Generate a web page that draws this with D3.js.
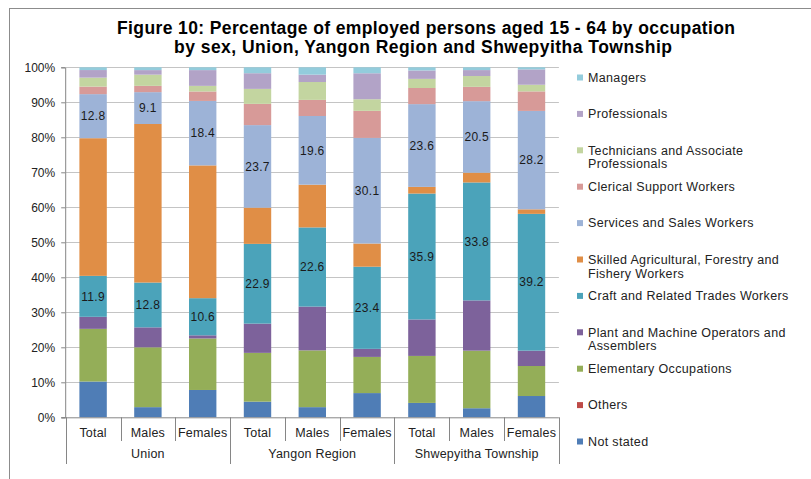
<!DOCTYPE html>
<html>
<head>
<meta charset="utf-8">
<script src="https://cdn.jsdelivr.net/npm/d3@7/dist/d3.min.js"></script>
<style>
  html, body { margin: 0; padding: 0; background: #fff; }
  svg { display: block; font-family: "Liberation Sans", Arial, sans-serif; }
</style>
</head>
<body>
<svg id="chart" width="811" height="479"></svg>
<script>
// ---- Data ----
const categories = ["Total", "Males", "Females", "Total", "Males", "Females", "Total", "Males", "Females"];
const groups = ["Union", "Yangon Region", "Shwepyitha Township"];
const seriesNames = [
  "Not stated", "Others", "Elementary Occupations", "Plant and Machine Operators and Assemblers",
  "Craft and Related Trades Workers", "Skilled Agricultural, Forestry and Fishery Workers",
  "Services and Sales Workers", "Clerical Support Workers",
  "Technicians and Associate Professionals", "Professionals", "Managers"
];
const notStated     = [10.4, 2.9, 7.8, 4.5, 2.9, 6.9, 4.1, 2.6, 6.1];
const others        = [0, 0, 0, 0, 0, 0, 0, 0, 0];
const elementary    = [15.3, 17.1, 14.7, 14.0, 16.2, 10.3, 13.4, 16.5, 8.6];
const plant         = [3.5, 5.7, 0.9, 8.4, 12.5, 2.3, 10.4, 14.4, 4.4];
const craft         = [11.9, 12.8, 10.6, 22.9, 22.6, 23.4, 35.9, 33.8, 39.2];
const skilled       = [40.0, 45.3, 37.9, 10.4, 12.2, 6.6, 1.9, 2.8, 1.3];
const services      = [12.8, 9.1, 18.4, 23.7, 19.6, 30.1, 23.6, 20.5, 28.2];
const clerical      = [2.2, 1.8, 2.7, 6.1, 4.6, 7.7, 4.6, 4.1, 5.6];
const technicians   = [2.6, 3.2, 1.6, 4.3, 5.1, 3.3, 2.6, 3.1, 1.9];
const professionals = [2.2, 1.3, 4.5, 4.5, 2.1, 7.4, 2.4, 1.7, 4.4];
const managers      = [0.8, 0.8, 0.8, 1.7, 2.1, 1.7, 0.9, 0.8, 0.6];
const yTicks = [0, 0.1, 0.2, 0.3, 0.4, 0.5, 0.6, 0.7, 0.8, 0.9, 1.0];
const labelledSeries = ["Services and Sales Workers", "Craft and Related Trades Workers"];

const seriesValues = [notStated, others, elementary, plant, craft, skilled, services, clerical, technicians, professionals, managers];
const colors = ["#4F7DB6", "#BE4B48", "#94AE58", "#7D629B", "#4BA3BA", "#E08E46",
                "#9DB3D7", "#D79A98", "#C3D5A0", "#B2A3C7", "#93CCDC"];
// legend order (top to bottom)
const legendOrder = [10, 9, 8, 7, 6, 5, 4, 3, 2, 1, 0];
const legendLines = {
  "Technicians and Associate Professionals": ["Technicians and Associate", "Professionals"],
  "Skilled Agricultural, Forestry and Fishery Workers": ["Skilled Agricultural, Forestry and", "Fishery Workers"],
  "Plant and Machine Operators and Assemblers": ["Plant and Machine Operators and", "Assemblers"]
};

// ---- Build table ----
const table = categories.map((c, i) => {
  const row = { idx: i, cat: c };
  seriesNames.forEach((s, j) => row[s] = seriesValues[j][i]);
  return row;
});

const svg = d3.select("#chart");

// outer frame
svg.append("rect").attr("x", 9.5).attr("y", 8.5).attr("width", 900).attr("height", 600)
  .attr("fill", "none").attr("stroke", "#8c8c8c").attr("stroke-width", 1);

// title
const title = svg.append("g").attr("font-weight", "bold").attr("font-size", 17.5).attr("fill", "#000");
title.append("text").attr("x", 117).attr("y", 34).attr("textLength", 618).attr("lengthAdjust", "spacing")
  .text("Figure 10: Percentage of employed persons aged 15 - 64 by occupation");
title.append("text").attr("x", 174).attr("y", 53).attr("textLength", 498).attr("lengthAdjust", "spacing")
  .text("by sex, Union, Yangon Region and Shwepyitha  Township");

// scales
const x0 = 65.7, x1 = 558.9;
const yTop = 67.3, yBot = 417.3;
const x = d3.scaleBand().domain(d3.range(categories.length)).range([x0, x1]).paddingInner(0.5).paddingOuter(0.25);
const y = d3.scaleLinear().domain([0, 1]).range([yBot, yTop]);

// gridlines
svg.append("g").selectAll("line").data(yTicks.slice(1)).join("line")
  .attr("x1", x0).attr("x2", x1).attr("y1", d => Math.round(y(d)) + 0.5).attr("y2", d => Math.round(y(d)) + 0.5)
  .attr("stroke", "#c4c4c4").attr("stroke-width", 1);

// stack
const stack = d3.stack().keys(seriesNames).offset(d3.stackOffsetExpand);
const stacked = stack(table);

const barsG = svg.append("g");
stacked.forEach((layer, j) => {
  barsG.append("g").attr("fill", colors[j]).selectAll("rect").data(layer).join("rect")
    .attr("x", d => x(d.data.idx))
    .attr("width", x.bandwidth())
    .attr("y", d => y(d[1]))
    .attr("height", d => Math.max(0, y(d[0]) - y(d[1])));
});

// data labels
const labG = svg.append("g").attr("font-size", 12).attr("fill", "#1a1a1a").attr("text-anchor", "middle")
  .attr("letter-spacing", 0.3);
stacked.forEach((layer, j) => {
  if (!labelledSeries.includes(layer.key)) return;
  labG.selectAll(null).data(layer).join("text")
    .attr("x", d => x(d.data.idx) + x.bandwidth() / 2)
    .attr("y", d => (y(d[0]) + y(d[1])) / 2)
    .attr("dy", "0.35em")
    .text(d => d3.format(".1f")(d.data[layer.key]));
});

// y axis
const yAxis = d3.axisLeft(y).tickValues(yTicks).tickFormat(d3.format(".0%")).tickSize(4).tickPadding(6);
const yg = svg.append("g").attr("transform", `translate(${x0 - 0.5},0)`).call(yAxis);
yg.select(".domain").attr("stroke", "#868686");
yg.selectAll(".tick line").attr("stroke", "#868686");
yg.selectAll(".tick text").attr("font-size", 12).attr("fill", "#222").attr("font-family", "Liberation Sans, Arial, sans-serif");

// x axis (baseline + category separators)
svg.append("line").attr("x1", x0 - 4).attr("x2", x1).attr("y1", yBot + 0.5).attr("y2", yBot + 0.5).attr("stroke", "#868686");
const seps = d3.range(categories.length + 1);
svg.append("g").selectAll("line").data(seps).join("line")
  .attr("x1", i => Math.round(x0 + i * (x1 - x0) / categories.length) + 0.5)
  .attr("x2", i => Math.round(x0 + i * (x1 - x0) / categories.length) + 0.5)
  .attr("y1", yBot)
  .attr("y2", i => (i % 3 === 0) ? 464 : 441)
  .attr("stroke", "#868686");

svg.append("g").attr("font-size", 12.5).attr("fill", "#222").attr("text-anchor", "middle")
  .attr("letter-spacing", 0.2)
  .selectAll("text").data(table).join("text")
  .attr("x", d => x(d.idx) + x.bandwidth() / 2)
  .attr("y", 437)
  .text(d => d.cat);

svg.append("g").attr("font-size", 12.5).attr("fill", "#222").attr("text-anchor", "middle")
  .attr("letter-spacing", 0.2)
  .selectAll("text").data(groups).join("text")
  .attr("x", (d, i) => x0 + (i * 3 + 1.5) * (x1 - x0) / categories.length)
  .attr("y", 458)
  .text(d => d);

// legend
const legG = svg.append("g").attr("font-size", 12.5).attr("fill", "#222").attr("letter-spacing", 0.35);
legendOrder.forEach((si, k) => {
  const name = seriesNames[si];
  const yy = 77.5 + k * 36.4;
  legG.append("rect").attr("x", 577).attr("y", yy - 3).attr("width", 6).attr("height", 6).attr("fill", colors[si]);
  const lines = legendLines[name] || [name];
  const t = legG.append("text").attr("x", 588).attr("y", yy);
  lines.forEach((ln, li) => {
    t.append("tspan").attr("x", 588).attr("dy", li === 0 ? "0.35em" : "1.1em").text(ln);
  });
});
</script>
</body>
</html>
